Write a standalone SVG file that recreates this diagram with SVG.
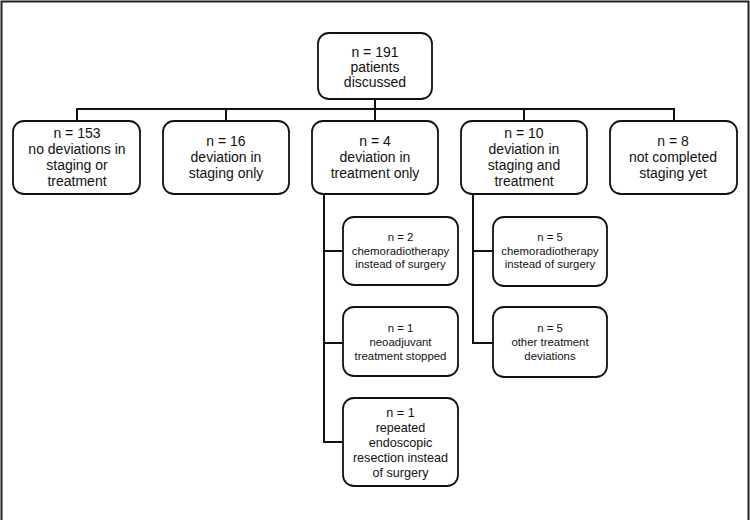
<svg xmlns="http://www.w3.org/2000/svg" width="750" height="520" viewBox="0 0 750 520">
<style>
.box{fill:#fff;stroke:#111;stroke-width:1.8}
.conn{fill:none;stroke:#111;stroke-width:2}
text{font-family:"Liberation Sans",Arial,sans-serif;fill:#111;text-anchor:middle}
.t1{font-size:14px}
.t2{font-size:11.4px}
.t3{font-size:12.6px}
</style>
<rect x="0" y="0" width="750" height="520" fill="#fff"/>
<path d="M1.5,520 V1.5 H748.5 V520" fill="none" stroke="#222" stroke-width="2"/>
<g id="connectors" class="conn">
<path d="M375,99 V109"/>
<path d="M77,121 V109 H674 V121"/>
<path d="M226,109 V121"/>
<path d="M375,109 V121"/>
<path d="M524,109 V121"/>
<path d="M324,194 V442 H343"/>
<path d="M324,251 H343"/>
<path d="M324,343 H343"/>
<path d="M473,194 V343 H493"/>
<path d="M473,251 H493"/>
</g>
<g id="n191">
<rect class="box" x="318" y="33" width="114" height="66" rx="11"/>
<text class="t1" x="375" y="57">n = 191</text>
<text class="t1" x="375" y="72">patients</text>
<text class="t1" x="375" y="87">discussed</text>
</g>
<g id="n153">
<rect class="box" x="13" y="121" width="127" height="73" rx="11"/>
<text class="t1" x="77" y="138">n = 153</text>
<text class="t1" x="77" y="154">no deviations in</text>
<text class="t1" x="77" y="170">staging or</text>
<text class="t1" x="77" y="186">treatment</text>
</g>
<g id="n16">
<rect class="box" x="163" y="121" width="126" height="73" rx="11"/>
<text class="t1" x="226" y="146">n = 16</text>
<text class="t1" x="226" y="162">deviation in</text>
<text class="t1" x="226" y="178">staging only</text>
</g>
<g id="n4">
<rect class="box" x="312" y="121" width="126" height="73" rx="11"/>
<text class="t1" x="375" y="146">n = 4</text>
<text class="t1" x="375" y="162">deviation in</text>
<text class="t1" x="375" y="178">treatment only</text>
</g>
<g id="n10">
<rect class="box" x="461" y="121" width="126" height="73" rx="11"/>
<text class="t1" x="524" y="138">n = 10</text>
<text class="t1" x="524" y="154">deviation in</text>
<text class="t1" x="524" y="170">staging and</text>
<text class="t1" x="524" y="186">treatment</text>
</g>
<g id="n8">
<rect class="box" x="610" y="121" width="127" height="73" rx="11"/>
<text class="t1" x="673" y="146">n = 8</text>
<text class="t1" x="673" y="162">not completed</text>
<text class="t1" x="673" y="178">staging yet</text>
</g>
<g id="t_chemo">
<rect class="box" x="343" y="217" width="115" height="68" rx="11"/>
<text class="t2" x="400.5" y="241">n = 2</text>
<text class="t2" x="400.5" y="255">chemoradiotherapy</text>
<text class="t2" x="400.5" y="268">instead of surgery</text>
</g>
<g id="t_neo">
<rect class="box" x="343" y="307" width="115" height="69" rx="11"/>
<text class="t2" x="400.5" y="332">n = 1</text>
<text class="t2" x="400.5" y="346">neoadjuvant</text>
<text class="t2" x="400.5" y="360">treatment stopped</text>
</g>
<g id="t_endo">
<rect class="box" x="343" y="398" width="115" height="88" rx="11"/>
<text class="t3" x="400.5" y="417">n = 1</text>
<text class="t3" x="400.5" y="432">repeated</text>
<text class="t3" x="400.5" y="447">endoscopic</text>
<text class="t3" x="400.5" y="462">resection instead</text>
<text class="t3" x="400.5" y="477">of surgery</text>
</g>
<g id="st_chemo">
<rect class="box" x="493" y="217" width="114" height="69" rx="11"/>
<text class="t2" x="550" y="241">n = 5</text>
<text class="t2" x="550" y="255">chemoradiotherapy</text>
<text class="t2" x="550" y="268">instead of surgery</text>
</g>
<g id="st_other">
<rect class="box" x="493" y="307" width="114" height="70" rx="11"/>
<text class="t2" x="550" y="332">n = 5</text>
<text class="t2" x="550" y="346">other treatment</text>
<text class="t2" x="550" y="360">deviations</text>
</g>
</svg>
